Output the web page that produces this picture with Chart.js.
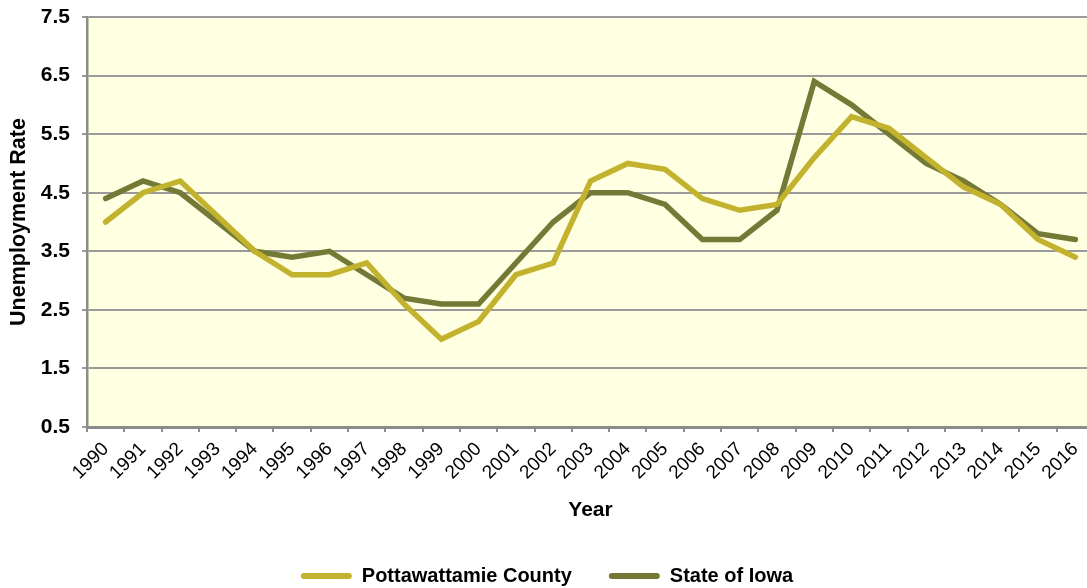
<!DOCTYPE html>
<html>
<head>
<meta charset="utf-8">
<script src="https://cdn.jsdelivr.net/npm/chart.js@4"></script>
<style>
  html, body { margin: 0; padding: 0; overflow: hidden; background: #fff; }
  canvas { display: block; }
</style>
</head>
<body>
<canvas id="c" width="1094" height="596"></canvas>
<script>
const years = ['1990','1991','1992','1993','1994','1995','1996','1997','1998','1999','2000','2001','2002','2003','2004','2005','2006','2007','2008','2009','2010','2011','2012','2013','2014','2015','2016'];
const pottawattamie = [4.0,4.5,4.7,4.1,3.5,3.1,3.1,3.3,2.6,2.0,2.3,3.1,3.3,4.7,5.0,4.9,4.4,4.2,4.3,5.1,5.8,5.6,5.1,4.6,4.3,3.7,3.4];
const iowa = [4.4,4.7,4.5,4.0,3.5,3.4,3.5,3.1,2.7,2.6,2.6,3.3,4.0,4.5,4.5,4.3,3.7,3.7,4.2,6.4,6.0,5.5,5.0,4.7,4.3,3.8,3.7];
const yTickLabels = ['0.5','1.5','2.5','3.5','4.5','5.5','6.5','7.5'];

const FONT = "'Liberation Sans', Arial, sans-serif";

const plotBg = {
  id: 'plotBg',
  beforeDraw(chart) {
    const {ctx, chartArea: a} = chart;
    ctx.save();
    ctx.fillStyle = '#FFFFE1';
    ctx.fillRect(a.left, a.top, a.right - a.left, a.bottom - a.top);
    ctx.restore();
  }
};

new Chart(document.getElementById('c'), {
  type: 'line',
  data: {
    labels: years,
    datasets: [
      { label: 'Pottawattamie County', data: pottawattamie, borderColor: '#C3B22E', backgroundColor: '#C3B22E', borderWidth: 5.5, pointRadius: 0, tension: 0, borderCapStyle: 'round' },
      { label: 'State of Iowa', data: iowa, borderColor: '#747A35', backgroundColor: '#747A35', borderWidth: 5.5, pointRadius: 0, tension: 0, borderCapStyle: 'round' }
    ]
  },
  options: {
    responsive: false,
    maintainAspectRatio: false,
    animation: false,
    devicePixelRatio: 1,
    layout: { padding: { left: 0, right: 0, top: 17, bottom: 0 } },
    plugins: {
      tooltip: { enabled: false },
      legend: {
        position: 'bottom',
        labels: {
          font: { family: FONT, size: 20, weight: 'bold' },
          color: '#000',
          boxWidth: 51,
          boxHeight: 6,
          padding: 37,
          useBorderRadius: true,
          borderRadius: 3,
          generateLabels(chart) {
            return chart.data.datasets.map((ds, i) => ({
              text: ds.label, fillStyle: ds.borderColor, strokeStyle: ds.borderColor,
              lineWidth: 0, borderRadius: 3, datasetIndex: i, hidden: false, fontColor: '#000'
            }));
          }
        }
      }
    },
    scales: {
      x: {
        offset: true,
        afterFit(scale) { scale.height = 102; scale.paddingLeft = 0; scale.paddingRight = 0; },
        grid: { offset: true, drawOnChartArea: false, drawTicks: true, tickLength: 5, color: '#8c8c8c', lineWidth: 2 },
        border: { color: '#8c8c8c', width: 3 },
        ticks: { font: { family: FONT, size: 19 }, color: '#000', minRotation: 45, maxRotation: 45, autoSkip: false, padding: 6 },
        title: { display: true, text: 'Year', font: { family: FONT, size: 21, weight: 'bold' }, color: '#000', padding: { top: 0, bottom: 6 } }
      },
      y: {
        min: 0.5,
        max: 7.5,
        afterFit(scale) { scale.width = 87; scale.paddingTop = 0; scale.paddingBottom = 0; },
        grid: { color: '#9a9a9a', lineWidth: 2, tickLength: 5, drawTicks: true },
        border: { color: '#8c8c8c', width: 2.5 },
        ticks: {
          stepSize: 1,
          padding: 12,
          font: { family: FONT, size: 21, weight: 'bold' },
          color: '#000',
          callback(v) { const i = Math.round(v - 0.5); return yTickLabels[i] !== undefined ? yTickLabels[i] : v.toFixed(1); }
        },
        title: { display: true, text: 'Unemployment Rate', font: { family: FONT, size: 21.5, weight: 'bold' }, color: '#000', padding: { top: 6, bottom: 0 } }
      }
    }
  },
  plugins: [plotBg]
});
</script>
</body>
</html>
